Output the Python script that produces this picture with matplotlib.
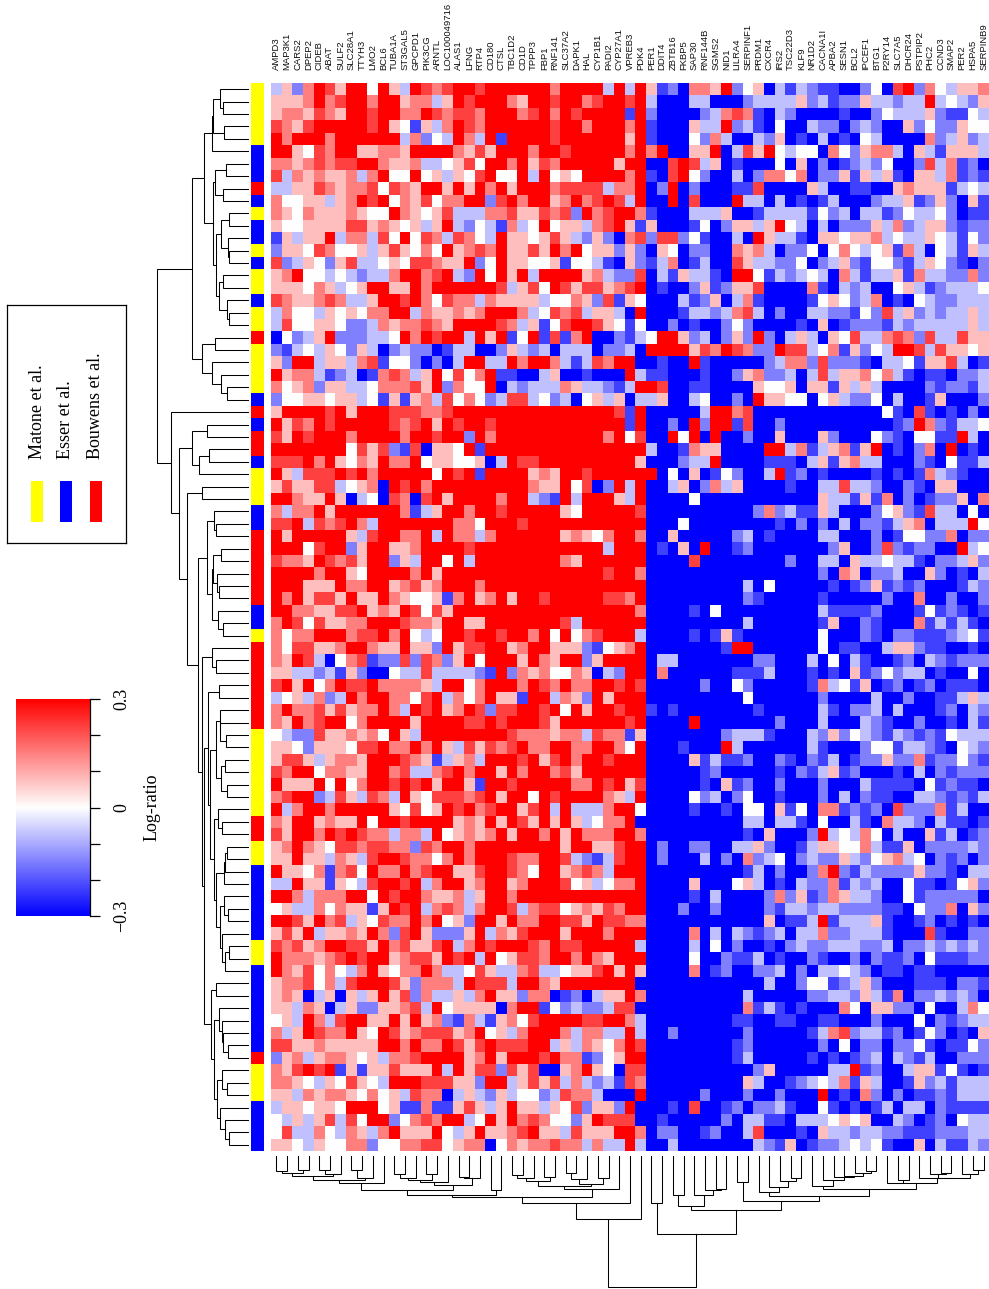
import matplotlib
matplotlib.use('Agg')
import matplotlib.pyplot as plt
from matplotlib.colors import LinearSegmentedColormap, ListedColormap
from matplotlib.patches import Rectangle
import numpy as np

W, H = 989, 1289

GENES = ['AMPD3', 'MAP3K1', 'CARS2', 'DPEP2', 'CIDEB', 'ABAT', 'SULF2', 'SLC28A1', 'TTYH3', 'LMO2',
         'BCL6', 'TUBA1A', 'ST3GAL5', 'GPCPD1', 'PIK3CG', 'ARNTL', 'LOC100049716', 'ALAS1', 'LFNG', 'RTP4',
         'CD180', 'CTSL', 'TBC1D2', 'CD1D', 'TPPP3', 'FBP1', 'RNF141', 'SLC37A2', 'DAPK1', 'HAL',
         'CYP1B1', 'PADI2', 'CYP27A1', 'VPREB3', 'PDK4', 'PER1', 'DDIT4', 'ZBTB16', 'FKBP5', 'SAP30',
         'RNF144B', 'SGMS2', 'NID1', 'LILRA4', 'SERPINF1', 'PRDM1', 'CXCR4', 'IRS2', 'TSC22D3', 'KLF9',
         'NR1D2', 'CACNA1I', 'APBA2', 'SESN1', 'BCL2', 'IPCEF1', 'BTG1', 'P2RY14', 'SLC7A5', 'DHCR24',
         'PSTPIP2', 'PHC2', 'CCND3', 'SMAP2', 'PER2', 'HSPA5', 'SERPINB9']

# study of each row, top to bottom
SIDE = ('YYYYY BBB R B Y BB Y B YY B YY R YYYY B R B RR B YYY BB RRRRRR BB Y '
        'RRRRRRR YYYYYYY RR YY BBBBBB YY BBBBBBB R YYY BBBB').replace(' ', '')

# colour levels, 0 = -0.3 (blue), 4 = 0 (white), 8 = +0.3 (red)
HEAT_LEVELS = [
    '3526875884 8538767887 8888886888 838 3851206658 2450313211 0024078264 3556',
    '5556867886 8856635878 8865887886 788 7830003300 0233335231 2253323383 4325',
    '5665765887 8866876776 8886786878 888 1820000236 7610320000 1002433352 1143',
    '7657888887 8541536876 8888887886 888 6810005338 2310400322 0232005242 2544',
    '8688868888 8836243863 8188887888 888 5810004263 0032501030 1043000062 3523',
    '8854768855 6658888657 5888688788 888 6868005580 3758434406 4256630531 5553',
    '6656767788 6556334574 8868576888 885 8800787350 1000405020 1232400273 6120',
    '7365655636 8448453547 8448384548 888 6810784200 3026646022 5153510553 6121',
    '3355765667 4765885858 6858886777 736 6802802000 1170000530 0110056555 1343',
    '6445535687 8465746688 2786885686 787 3800807000 8330301013 0002335125 2051',
    '6546555654 4865457333 6675576728 678 8610003335 0013333142 3033124334 2011',
    '5445555775 6545358324 3163484553 678 5150001402 5535843030 2225362355 2122',
    '1535583663 7484763764 3855457532 520 6727724100 3085331055 4556343354 3142',
    '2554764453 5754648567 6855758684 552 5205402200 6563022404 6434516304 3153',
    '7235425733 4547765582 4855445144 310 5213601300 7533224023 5214421354 2102',
    '5684434323 3688678328 4858388885 632 2703153310 8841323430 6313351633 2262',
    '5554653458 8558688888 8735748757 756 7801002512 5570000610 3230045312 3334',
    '7655676335 8878647663 6555534465 271 5400031250 3610000145 4236010432 2333',
    '3644354546 6883655656 8886347673 553 0800013323 6730200332 2142735232 3353',
    '3744554223 6566765888 8763514788 754 1400201002 4200001050 1222132333 3353',
    '0423582223 3486878838 5814817168 002 1348852302 5282035305 4733676273 3755',
    '2134354253 0232201330 0253230333 022 3088885768 7622877346 1524388737 5545',
    '5288355367 1442020388 3386886313 768 8001008100 0002366272 2210334155 7301',
    '8566312301 6763584746 8110035001 000 8311000100 2562230373 5564631011 0223',
    '6456255334 6667582644 8032333653 321 3887001100 0054450551 5353000021 2213',
    '2445545534 1515637464 2377342304 535 0335003400 2085544045 3224030015 0002',
    '5888878588 8777667888 8888888888 887 1800000388 6700000000 0000410710 1020',
    '8576878888 8767858788 7888888888 888 1800208288 1700200000 0000012862 1334',
    '7587888688 8868878828 6888888888 868 4700848080 0200500052 0004210441 1830',
    '8888888475 7217055481 8888888888 888 8830016550 0008836135 6158010260 8010',
    '7778685465 8668455445 0387788888 888 8500023380 0001110351 5633000210 4113',
    '8537778786 8888848781 8888565887 888 8880405014 2003812010 0001010163 2100',
    '5755773456 0878688888 8888655847 028 3800350263 5000010033 7332002105 5000',
    '8865585034 0760785888 8688321838 885 3800004000 0000000053 3151602012 2506',
    '6366858888 8861358868 8788888548 888 8700000000 0026231153 0002452173 3040',
    '7783767863 8888888664 8887888888 888 8800040000 0000102020 3022135603 3384',
    '8588888537 8866838663 6888888565 468 8600500000 2301000033 0002014422 6022',
    '8884788258 8556888878 8888888888 838 8801050800 1200000002 5002721220 0834',
    '7665876758 8253884838 8888888658 888 8800007000 0000020033 0533433102 2352',
    '8888688548 8886858888 8888888888 878 8600000000 0000000020 6502230052 0103',
    '8885558668 8567568886 8888888888 888 8800000000 0304000001 0125121200 0132',
    '8685775855 8654451685 6858878888 877 6800000000 0210000010 0000200600 2002',
    '8866557785 6587475888 8888888888 888 8600001040 0000000031 1112000141 2101',
    '6874755668 8876658855 8888888738 888 8800000000 0300000015 0021000613 1310',
    '6466888677 8684348878 8788684846 788 8300001015 1000000040 0021022111 2341',
    '6477556886 5585528577 8856885552 145 6800000001 8800000040 1100355211 0010',
    '6587304671 2272762584 8885865882 588 8803300000 0022000304 0310012032 1222',
    '5533231520 0433733332 1826564465 032 8806000000 1113000101 0512423301 0040',
    '7858468778 6666538846 8886876866 887 8700000200 4200000163 4150120120 1110',
    '3453623868 8664783646 8551883652 858 8800000000 0400000020 0003002001 1353',
    '6866757566 8638785687 2778878485 887 8810100000 0010000031 0223030001 2032',
    '6586788468 8885888877 8788875888 888 7800008000 0000200030 0032100200 1031',
    '4322755656 4853888888 8876665663 766 1500000002 3331000325 2432132121 4333',
    '5542555477 8668685375 7678668866 886 4800010008 3000000310 0024413321 0432',
    '5775356658 8876513563 8887857868 878 8800005131 1200210213 0122522612 2421',
    '7688466558 8673367868 8586886758 888 8800000120 0000102135 1200010302 1222',
    '8555848468 8787858851 8878888866 878 5700000105 1200200020 0031111041 2110',
    '6788237537 6385477767 8588487888 865 3800004230 2400100020 3021100332 1213',
    '8368868888 8547458786 7885783833 368 8400001001 0440514066 1212072226 1300',
    '6588565584 8878888565 8587585853 466 8000000000 0330331040 0310633203 1101',
    '7588687876 6366384565 6858868586 668 8600000000 0105000283 4364030051 3012',
    '5686547767 7662768868 8888888588 557 8802002200 3352001355 4463115022 2232',
    '5585536537 8876646868 8876688732 137 8802000302 0623402322 5324563402 1202',
    '8554616748 6686788557 8876488567 638 8800000000 0130200268 2132222522 1033',
    '3385515437 8878368856 8856888745 346 6800005000 4530103226 1323004110 1452',
    '8863666884 8788655635 8868888888 888 8800001030 0002625126 5332004122 2220',
    '4533646551 5878367636 8873677456 576 8800020020 0002133233 2222110422 6052',
    '8875867354 7668684528 8586688775 877 6600000000 0005011381 3335100120 1010',
    '5758355658 6278522258 3657888588 868 8800006030 3212303362 2333100071 0022',
    '7675688775 8675578368 7888768778 888 8300003040 2001023223 3322302232 3232',
    '8666567878 8567758783 8457768868 658 8800004002 1130100210 0202112041 1122',
    '8657464368 5466863347 5336733455 785 8500006012 0022302033 4320110110 0000',
    '5667463788 8752666387 7738865888 888 8000000000 0003002441 2352000111 0221',
    '5650350535 8572633536 8552660120 355 8600000000 0300000223 3253160223 2320',
    '5536503522 5567384555 5068814232 237 7000000000 0613101000 6405522040 0364',
    '4538637885 5858562163 1564788887 788 6300000000 1100110011 0002000402 1233',
    '6358766854 8756777568 4536888636 633 8300200000 0200000136 7233120142 0105',
    '7755655555 8868668757 8777883536 546 8700000000 1200000020 4022022410 1142',
    '2563566545 3667888856 8588878661 245 8800000000 1300000101 0123032130 0222',
    '6578781515 5755583857 7275700568 540 7700000000 0025000003 3812003551 4101',
    '6654354754 3888777552 8835757363 231 7600000000 0530012343 6153001523 1333',
    '5536566546 4537660353 2534423766 300 0800000200 0200200080 1062020112 1333',
    '3554554888 4511611575 3585535472 552 8000107001 2022310041 0101303302 1111',
    '4353573748 8246768834 8586764425 877 7001000002 0331103334 5450032012 0433',
    '4733643653 6855584358 5567855375 558 8602200120 0370001053 3233221112 2233',
    '5543544662 4466774566 0465667663 633 8300300000 0032150122 3434100503 1132',
]

# dendrograms as nested (height, first, second), 0 is a leaf; height unit = 1/3 pixel
ROW_TOP = (166,
           (130,
            (108, (103, (83, 0, (73, 0, 0)), (70, 0, 0)), 0),
            (103,
             (99, (65, 0, 0), (73, 0, 0)),
             (95,
              (79, (55, 0, 0), (58, 0, (55, 0, 0))),
              (86, (73, 0, 0), (61, 0, (55, 0, 0)))))),
           (136, (97, 0, 0), (108, 0, (81, 0, (63, 0, 0)))))
ROW_P3 = (122,
          (100, 0, (94, 0, 0)),
          (108,
           (105, (79, 0, 0), (91, 0, (85, 0, 0))),
           (88, 0, (75, 0, 0))))
ROW_S0 = (119,
          (86, 0, 0),
          (113,
           (96,
            (84, 0, (83, 0, (65, 0, 0))),
            (80, (68, 0, 0), (63, 0, 0))),
           (100,
            (88, 0, (76, 0, 0)),
            (94,
             (71, (67, (61, 0, 0), 0), 0),
             (84,
              (70, 0, (58, 0, 0)),
              (77, 0, (67, (55, 0, 0), 0)))))))
ROW_S2 = (110,
          (96, 0, 0),
          (100,
           (85, 0, (78, 0, (73, 0, (60, 0, 0)))),
           (91,
            (77, 0, (61, 0, 0)),
            (83, 0, (68, 0, (57, 0, 0))))))
ROW_Q = (136, (108, 0, (94, 0, 0)), (130, ROW_S0, ROW_S2))
ROW_BOTTOM = (231, 0,
              (205,
               (167, (123, 0, 0), (145, (117, 0, 0), 0)),
               (182, (138, 0, 0), (150, ROW_P3, ROW_Q))))
ROW_TREE = (273, ROW_TOP, ROW_BOTTOM)

COL_LEFT_A = (104,
              (81,
               (72,
                (60, (51, (46, 0, 0), (43, 0, 0)), (55, (44, 0, 0), 0)),
                (68, (44, 0, 0), 0)),
               0),
              (88,
               (80, (73, (68, (56, 0, 0), 0), (54, 0, 0)), 0),
               (68, (63, 0, 0), 0)))
COL_LEFT_B = (101,
              (92,
               (75, (66, (58, 0, 0), 0), (65, 0, 0)),
               (85, (71, (53, 0, 0), 0), (66, 0, 0))),
              0)
COL_LEFT = (189, (141, (125, (118, COL_LEFT_A, (104, 0, 0)), COL_LEFT_B), 0), 0)
COL_TAIL = (83,
            (82, 0, (72, 0, 0)),
            (68, 0, (66, (55, 0, (51, 0, 0)), (56, 0, (44, 0, 0)))))
COL_MID = (121,
           (108, 0, (93, 0, (75, 0, (67, 0, 0)))),
           (99,
            (91, 0, (73, 0, (65, 0, (60, 0, (52, 0, (45, 0, 0)))))),
            COL_TAIL))
COL_RIGHT = (235,
             (141, 0, 0),
             (163,
              (151, (117, 0, 0), (117, 0, (103, 0, (100, 0, 0)))),
              (136, (79, 0, 0), COL_MID)))
COL_TREE = (395, COL_LEFT, COL_RIGHT)

LEGEND_NAMES = ['Matone et al.', 'Esser et al.', 'Bouwens et al.']
LEGEND_COLORS = ['#ffff00', '#0000ff', '#ff0000']
BAR_TICKS = [-0.3, -0.2, -0.1, 0, 0.1, 0.2, 0.3]
BAR_LABELS = ['\u22120.3', '', '', '0', '', '', '0.3']

plt.rcParams['font.family'] = ['Liberation Serif', 'DejaVu Serif']


def box(fig, left, top, right, bottom):
    return fig.add_axes([left / W, 1 - bottom / H, (right - left) / W, (bottom - top) / H])


def draw_tree(ax, node, counter, horizontal):
    # returns the middle of the node and its height, leaves count up from the start
    if node == 0:
        counter[0] += 1
        return counter[0] - 0.5, 0
    h, first, second = node
    p1, h1 = draw_tree(ax, first, counter, horizontal)
    p2, h2 = draw_tree(ax, second, counter, horizontal)
    heights = [h1, h, h, h2]
    places = [p1, p1, p2, p2]
    if horizontal:
        ax.plot(heights, places, color='black', lw=0.75, clip_on=False, solid_joinstyle='miter')
    else:
        ax.plot(places, heights, color='black', lw=0.75, clip_on=False, solid_joinstyle='miter')
    return (p1 + p2) / 2, h


rows = [r.replace(' ', '') for r in HEAT_LEVELS]
assert all(len(r) == len(GENES) for r in rows), [i for i, r in enumerate(rows) if len(r) != 67]
matrix = (np.array([[int(c) for c in r] for r in rows]) - 4) * 0.075
side = np.array([['YBR'.index(c)] for c in SIDE])
assert len(SIDE) == len(rows)

fig = plt.figure(figsize=(W / 100, H / 100), dpi=100)
blue_red = LinearSegmentedColormap.from_list('br', ['#0000ff', '#ffffff', '#ff0000'], N=256)

# main heat map
ax = box(fig, 271, 83, 989, 1151)
mesh = ax.pcolormesh(matrix, cmap=blue_red, vmin=-0.3, vmax=0.3, antialiased=False)
ax.set_xlim(0, len(GENES))
ax.set_ylim(len(rows), 0)
ax.set_yticks([])
ax.xaxis.tick_top()
ax.set_xticks(np.arange(len(GENES)) + 0.5)
ax.set_xticklabels(GENES, rotation=90, fontsize=6.8, family='Liberation Sans', color='#111111')
ax.tick_params(axis='x', length=0, pad=9.2)
for s in ax.spines.values():
    s.set_visible(False)

# study colour strip
ax_side = box(fig, 250.5, 83, 264, 1151)
ax_side.pcolormesh(side, cmap=ListedColormap(LEGEND_COLORS), vmin=0, vmax=2, antialiased=False)
ax_side.set_ylim(len(rows), 0)
ax_side.axis('off')

# row dendrogram
ax_rows = box(fig, 247.7 - 273 / 3, 83, 247.7, 1151)
draw_tree(ax_rows, ROW_TREE, [0], True)
ax_rows.set_xlim(273, 0)
ax_rows.set_ylim(len(rows), 0)
ax_rows.axis('off')

# column dendrogram
ax_cols = box(fig, 271, 1155.7, 989, 1155.7 + 395 / 3)
draw_tree(ax_cols, COL_TREE, [0], False)
ax_cols.set_xlim(0, len(GENES))
ax_cols.set_ylim(395, 0)
ax_cols.axis('off')

# legend box, drawn in pixel units
ax_leg = box(fig, 7, 305, 126, 543)
ax_leg.set_xlim(7, 126)
ax_leg.set_ylim(543, 305)
ax_leg.set_xticks([])
ax_leg.set_yticks([])
for s in ax_leg.spines.values():
    s.set_linewidth(0.9)
for name, color, cx in zip(LEGEND_NAMES, LEGEND_COLORS, [37, 66, 95.5]):
    ax_leg.add_patch(Rectangle((cx - 6, 481), 12, 41, facecolor=color, edgecolor='none'))
    ax_leg.text(cx, 459, name, rotation=90, ha='center', va='bottom', fontsize=13)

# colour key
cax = box(fig, 16, 699.3, 90.3, 915.7)
cbar = fig.colorbar(mesh, cax=cax, ticks=BAR_TICKS)
cbar.ax.set_yticklabels(BAR_LABELS, rotation=90, va='center', fontsize=13)
cbar.ax.tick_params(length=7.5, width=0.9, pad=9)
cbar.outline.set_visible(False)
cax.axvline(1, color='black', lw=0.9, clip_on=False)
fig.text(152 / W, 1 - 807 / H, 'Log-ratio', rotation=90, ha='center', va='center', fontsize=13)

plt.savefig('out.png', dpi=100)
plt.close()
